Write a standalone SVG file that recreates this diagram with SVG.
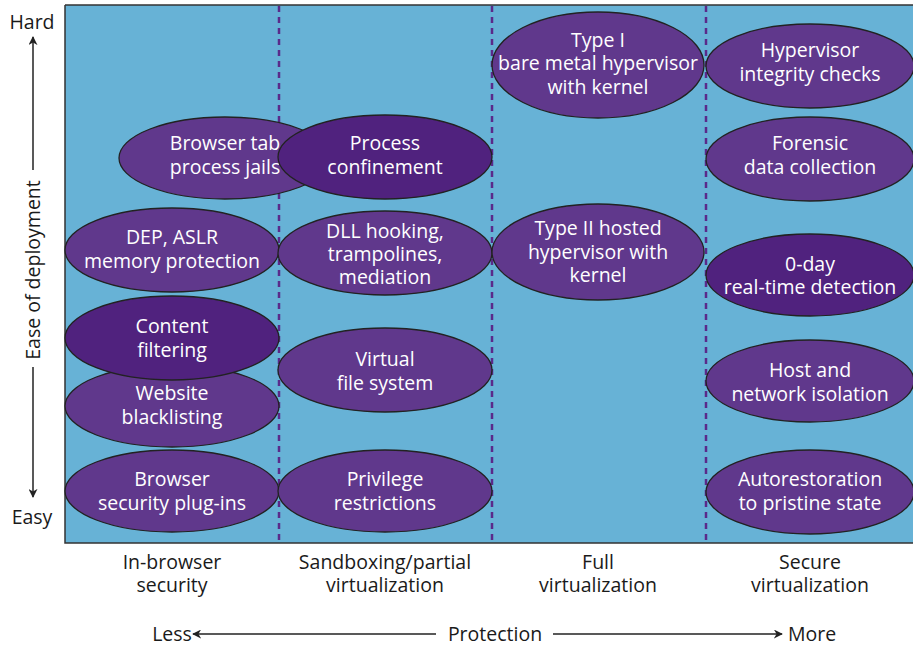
<svg xmlns="http://www.w3.org/2000/svg" width="913" height="646" viewBox="0 0 913 646">
<style>
text{font-family:"Open Sans","Liberation Sans",Arial,sans-serif;font-size:19.5px;text-anchor:middle}
.n ellipse{fill:#60388c;stroke:#222;stroke-width:1.3}
.n.d ellipse{fill:#50227e}
.n text{fill:#fff}
.lab{fill:#1a1a1a}
.dash{stroke:#5a2a8a;stroke-width:2.5;stroke-dasharray:6,5}
.ax{stroke:#222;stroke-width:1.5;fill:none}
</style>
<defs>
<marker id="ah" viewBox="0 0 10 10" refX="9" refY="5" markerWidth="9" markerHeight="9" markerUnits="userSpaceOnUse" orient="auto"><path d="M0,0 L10,5 L0,10 L3,5 z" fill="#222"/></marker>
</defs>
<rect x="65" y="5" width="860" height="538" fill="#67b2d6"/>
<path d="M65,5 H913 M65,5 V543 H913" stroke="#333" stroke-width="1.5" fill="none"/>
<g id="dividers">
<line class="dash" x1="279" y1="6" x2="279" y2="542"/>
<line class="dash" x1="492" y1="6" x2="492" y2="542"/>
<line class="dash" x1="706" y1="6" x2="706" y2="542"/>
</g>
<g id="c1">
<g id="n_tab" class="n"><ellipse cx="225" cy="158" rx="106" ry="41"/><text x="225" y="150">Browser tab</text><text x="225" y="174">process jails</text></g>
<g id="n_dep" class="n"><ellipse cx="172" cy="250" rx="107" ry="42"/><text x="172" y="244">DEP, ASLR</text><text x="172" y="268">memory protection</text></g>
<g id="n_web" class="n"><ellipse cx="172" cy="406" rx="107" ry="41"/><text x="172" y="400">Website</text><text x="172" y="424">blacklisting</text></g>
<g id="n_cont" class="n d"><ellipse cx="172" cy="338" rx="107" ry="42"/><text x="172" y="333">Content</text><text x="172" y="357">filtering</text></g>
<g id="n_plug" class="n"><ellipse cx="172" cy="491" rx="107" ry="41"/><text x="172" y="486">Browser</text><text x="172" y="510">security plug-ins</text></g>
</g>
<g id="c2">
<g id="n_proc" class="n d"><ellipse cx="385" cy="157" rx="107" ry="42"/><text x="385" y="150">Process</text><text x="385" y="174">confinement</text></g>
<g id="n_dll" class="n"><ellipse cx="385" cy="253" rx="107" ry="42"/><text x="385" y="238">DLL hooking,</text><text x="385" y="261">trampolines,</text><text x="385" y="284">mediation</text></g>
<g id="n_vfs" class="n"><ellipse cx="385" cy="370" rx="107" ry="42"/><text x="385" y="366">Virtual</text><text x="385" y="390">file system</text></g>
<g id="n_priv" class="n"><ellipse cx="385" cy="491" rx="107" ry="41"/><text x="385" y="486">Privilege</text><text x="385" y="510">restrictions</text></g>
</g>
<g id="c3">
<g id="n_t1" class="n"><ellipse cx="598" cy="65" rx="106" ry="53"/><text x="598" y="47">Type I</text><text x="598" y="70">bare metal hypervisor</text><text x="598" y="94">with kernel</text></g>
<g id="n_t2" class="n"><ellipse cx="598" cy="252" rx="106" ry="48"/><text x="598" y="235">Type II hosted</text><text x="598" y="259">hypervisor with</text><text x="598" y="282">kernel</text></g>
</g>
<g id="c4">
<g id="n_hic" class="n"><ellipse cx="810" cy="66" rx="104" ry="42"/><text x="810" y="57">Hypervisor</text><text x="810" y="81">integrity checks</text></g>
<g id="n_for" class="n"><ellipse cx="810" cy="159" rx="104" ry="42"/><text x="810" y="150">Forensic</text><text x="810" y="174">data collection</text></g>
<g id="n_0d" class="n d"><ellipse cx="810" cy="275" rx="104" ry="41"/><text x="810" y="271">0-day</text><text x="810" y="294">real-time detection</text></g>
<g id="n_host" class="n"><ellipse cx="810" cy="381" rx="104" ry="41"/><text x="810" y="377">Host and</text><text x="810" y="401">network isolation</text></g>
<g id="n_auto" class="n"><ellipse cx="810" cy="492" rx="104" ry="42"/><text x="810" y="486">Autorestoration</text><text x="810" y="510">to pristine state</text></g>
</g>
<g id="labels">
<text class="lab" x="172" y="569">In-browser</text><text class="lab" x="172" y="592">security</text>
<text class="lab" x="385" y="569">Sandboxing/partial</text><text class="lab" x="385" y="592">virtualization</text>
<text class="lab" x="598" y="569">Full</text><text class="lab" x="598" y="592">virtualization</text>
<text class="lab" x="810" y="569">Secure</text><text class="lab" x="810" y="592">virtualization</text>
<text class="lab" x="32" y="29">Hard</text>
<text class="lab" x="32" y="524">Easy</text>
<text class="lab" transform="translate(40,270) rotate(-90)" x="0" y="0">Ease of deployment</text>
<text class="lab" x="172" y="641">Less</text>
<text class="lab" x="495" y="641">Protection</text>
<text class="lab" x="812" y="641">More</text>
</g>
<g id="connectors">
<line class="ax" x1="33" y1="170" x2="33" y2="37" marker-end="url(#ah)"/>
<line class="ax" x1="33" y1="367" x2="33" y2="497" marker-end="url(#ah)"/>
<line class="ax" x1="436" y1="634" x2="193" y2="634" marker-end="url(#ah)"/>
<line class="ax" x1="553" y1="634" x2="782" y2="634" marker-end="url(#ah)"/>
</g>
</svg>
